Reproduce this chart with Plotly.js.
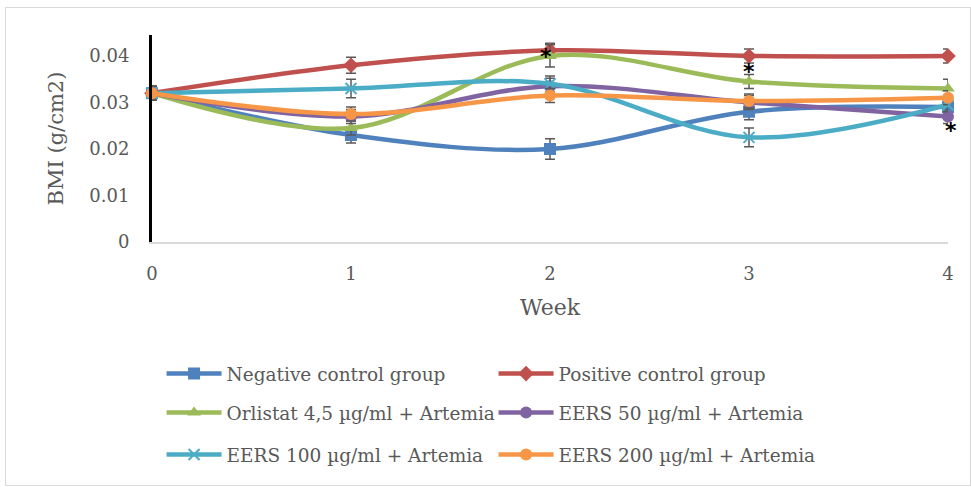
<!DOCTYPE html>
<html><head><meta charset="utf-8">
<script src="https://cdn.plot.ly/plotly-3.0.1.min.js"></script>
<style>html,body{margin:0;padding:0;background:#fff}#frame{position:absolute;left:5px;top:7px;width:964px;height:477px;border:1px solid #D9D9D9;pointer-events:none}</style>
</head><body>
<div id="chart" style="width:971px;height:487px;position:absolute;left:0;top:0"></div>
<div id="frame"></div>
<script>
const weeks = [0, 1, 2, 3, 4];
const weekLabels = ["0", "1", "2", "3", "4"];
const yTicks = [0, 0.01, 0.02, 0.03, 0.04];
const yTickLabels = ["0", "0.01", "0.02", "0.03", "0.04"];

const names = ["Negative control group", "Positive control group", "Orlistat 4,5 µg/ml + Artemia",
               "EERS 50 µg/ml + Artemia", "EERS 100 µg/ml + Artemia", "EERS 200 µg/ml + Artemia"];
const negative = [0.032, 0.023, 0.020, 0.028, 0.029];
const positive = [0.032, 0.038, 0.0412, 0.040, 0.040];
const orlistat = [0.032, 0.0245, 0.040, 0.0345, 0.033];
const eers50  = [0.032, 0.027, 0.0335, 0.030, 0.027];
const eers100 = [0.032, 0.033, 0.034, 0.0225, 0.0295];
const eers200 = [0.032, 0.0275, 0.0315, 0.0303, 0.031];

const negErr = [0.0015, 0.0017, 0.0022, 0.0017, 0.0015];
const posErr = [0.0015, 0.0017, 0.0015, 0.0015, 0.0015];
const orlErr = [0.0015, 0.0015, 0.0024, 0.0015, 0.002];
const e50Err = [0.0015, 0.0015, 0.0017, 0.0015, 0.0015];
const e100Err = [0.0015, 0.002, 0.0017, 0.002, 0.0015];
const e200Err = [0.0015, 0.0015, 0.0015, 0.0015, 0.0015];

const star = "*";
const starX = [1.98, 3, 4];
const starY = [0.0408, 0.0375, 0.0248];
const starShiftX = [0, 0, 3];

const series = [negative, positive, orlistat, eers50, eers100, eers200];
const errs = [negErr, posErr, orlErr, e50Err, e100Err, e200Err];
const colors = ["#4F81BD", "#C0504D", "#9BBB59", "#8064A2", "#4BACC6", "#F79646"];
const symbols = ["square", "diamond", "triangle-up", "circle", "x-thin-open", "circle"];
const legendIds = ["legend", "legend", "legend2", "legend2", "legend3", "legend3"];

const traces = series.map((vals, i) => ({
  x: weeks, y: vals, name: names[i], type: "scatter", mode: "lines+markers",
  legend: legendIds[i],
  line: {color: colors[i], width: 4.5, shape: "spline", smoothing: 1},
  marker: {symbol: symbols[i], size: i === 4 ? 11 : 12, color: colors[i],
           line: {color: colors[i], width: i === 4 ? 2 : 0}},
  error_y: {type: "data", array: errs[i], visible: true, color: "#595959", thickness: 1.5, width: 5},
  cliponaxis: false
}));

const fam = "DejaVu Serif, Liberation Serif, serif";
const font = {family: fam, size: 18, color: "#595959"};
const legendBase = {orientation: "h", xanchor: "left", yanchor: "middle", entrywidth: 262,
  entrywidthmode: "pixels", itemwidth: 55, font: {family: fam, size: 18.5, color: "#595959"},
  bgcolor: "rgba(0,0,0,0)", tracegroupgap: 0};

const layout = {
  width: 971, height: 487,
  margin: {l: 152, r: 23, t: 35, b: 245},
  paper_bgcolor: "#fff", plot_bgcolor: "#fff",
  font: font,
  showlegend: true,
  legend: Object.assign({}, legendBase, {x: 0.012, y: -0.638}),
  legend2: Object.assign({}, legendBase, {x: 0.012, y: -0.826}),
  legend3: Object.assign({}, legendBase, {x: 0.012, y: -1.029}),
  xaxis: {range: [0, 4], tickvals: weeks, ticktext: weekLabels, showgrid: false, zeroline: false,
          showline: true, linecolor: "#D9D9D9", linewidth: 2, ticks: "outside", ticklen: 14,
          tickcolor: "rgba(0,0,0,0)", tickfont: font,
          title: {text: "Week", font: {family: fam, size: 22, color: "#595959"}, standoff: 17}},
  yaxis: {range: [0, 0.0445], tickvals: yTicks, ticktext: yTickLabels, showgrid: false, zeroline: false,
          showline: true, linecolor: "#000", linewidth: 3, ticks: "outside", ticklen: 16,
          tickcolor: "rgba(0,0,0,0)", tickfont: font,
          title: {text: "BMI (g/cm2)", font: {family: fam, size: 21, color: "#595959"}, standoff: 20}},
  annotations: starX.map((x, i) => ({x: x, y: starY[i], xref: "x", yref: "y", text: star, yshift: -4,
    xshift: starShiftX[i],
    showarrow: false, font: {family: "DejaVu Sans, sans-serif", size: 22, color: "#000", weight: "bold"}}))
};

Plotly.newPlot("chart", traces, layout, {displayModeBar: false, staticPlot: true});
</script>
</body></html>
